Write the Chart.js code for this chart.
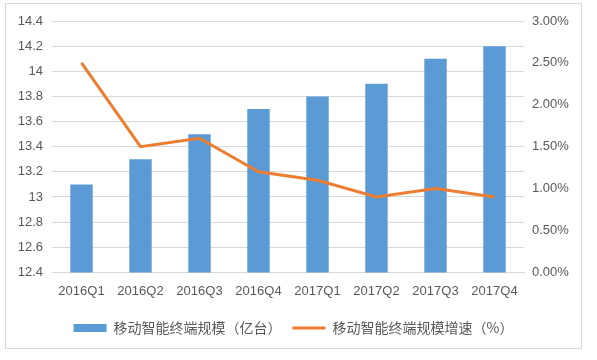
<!DOCTYPE html>
<html>
<head>
<meta charset="utf-8">
<script src="https://cdn.jsdelivr.net/npm/chart.js@4/dist/chart.umd.min.js"></script>
<style>
html,body{margin:0;padding:0;background:#fff;}
#wrap{width:597px;height:360px;position:relative;}
</style>
</head>
<body>
<div id="wrap"><canvas id="c" width="597" height="360"></canvas></div>
<script>
const categories = ['2016Q1','2016Q2','2016Q3','2016Q4','2017Q1','2017Q2','2017Q3','2017Q4'];
const scaleValues = [13.1, 13.3, 13.5, 13.7, 13.8, 13.9, 14.1, 14.2];
const growthValues = [2.5, 1.5, 1.6, 1.2, 1.1, 0.9, 1.0, 0.9];
const seriesNames = ['移动智能终端规模（亿台）', '移动智能终端规模增速（%）'];
const leftTickLabels = ['12.4','12.6','12.8','13','13.2','13.4','13.6','13.8','14','14.2','14.4'];
const rightTickLabels = ['0.00%','0.50%','1.00%','1.50%','2.00%','2.50%','3.00%'];

const textColor = '#595959';
const gridColor = '#d9d9d9';
const tickFont = {family: "'Liberation Sans', Arial, sans-serif", size: 13};

const borderPlugin = {
  id: 'outerBorder',
  beforeDraw(chart) {
    const ctx = chart.ctx;
    ctx.save();
    ctx.fillStyle = '#fff';
    ctx.fillRect(0, 0, chart.width, chart.height);
    ctx.strokeStyle = '#d9d9d9';
    ctx.lineWidth = 1;
    ctx.strokeRect(5.5, 3.5, 576, 345);
    ctx.restore();
  }
};

new Chart(document.getElementById('c'), {
  data: {
    labels: categories,
    datasets: [
      {
        type: 'bar',
        label: seriesNames[0],
        data: scaleValues,
        backgroundColor: '#5B9BD5',
        borderWidth: 0,
        yAxisID: 'y',
        order: 1,
        categoryPercentage: 1.0,
        barPercentage: 0.38,
        pointStyle: 'rect'
      },
      {
        type: 'line',
        label: seriesNames[1],
        data: growthValues,
        borderColor: '#ED7D31',
        backgroundColor: '#ED7D31',
        borderWidth: 3,
        pointRadius: 0,
        tension: 0,
        yAxisID: 'y1',
        order: 0,
        pointStyle: 'line'
      }
    ]
  },
  options: {
    responsive: false,
    animation: false,
    devicePixelRatio: 1,
    layout: {padding: {left: 5, right: 15, top: 21, bottom: 15}},
    plugins: {
      legend: {
        position: 'bottom',
        labels: {
          usePointStyle: true,
          pointStyleWidth: 33,
          boxHeight: 8,
          color: textColor,
          font: {family: "'Noto Sans CJK SC', sans-serif", size: 14},
          padding: 11,
          sort: (a, b) => a.datasetIndex - b.datasetIndex
        }
      },
      tooltip: {enabled: false}
    },
    scales: {
      x: {
        grid: {display: false, drawTicks: false},
        border: {display: true, color: gridColor},
        ticks: {color: textColor, font: tickFont, padding: 11, maxRotation: 0}
      },
      y: {
        position: 'left',
        min: 12.4, max: 14.4,
        grid: {color: gridColor, drawTicks: false},
        border: {display: false},
        ticks: {
          stepSize: 0.2,
          color: textColor, font: tickFont, padding: 9,
          callback: (v, i) => leftTickLabels[i]
        },
        afterFit: s => { s.width = 47; }
      },
      y1: {
        position: 'right',
        min: 0, max: 3,
        grid: {display: false, drawTicks: false},
        border: {display: false},
        ticks: {
          stepSize: 0.5,
          color: textColor, font: tickFont, padding: 8,
          callback: (v, i) => rightTickLabels[i]
        },
        afterFit: s => { s.width = 58; }
      }
    }
  },
  plugins: [borderPlugin]
});
</script>
</body>
</html>
